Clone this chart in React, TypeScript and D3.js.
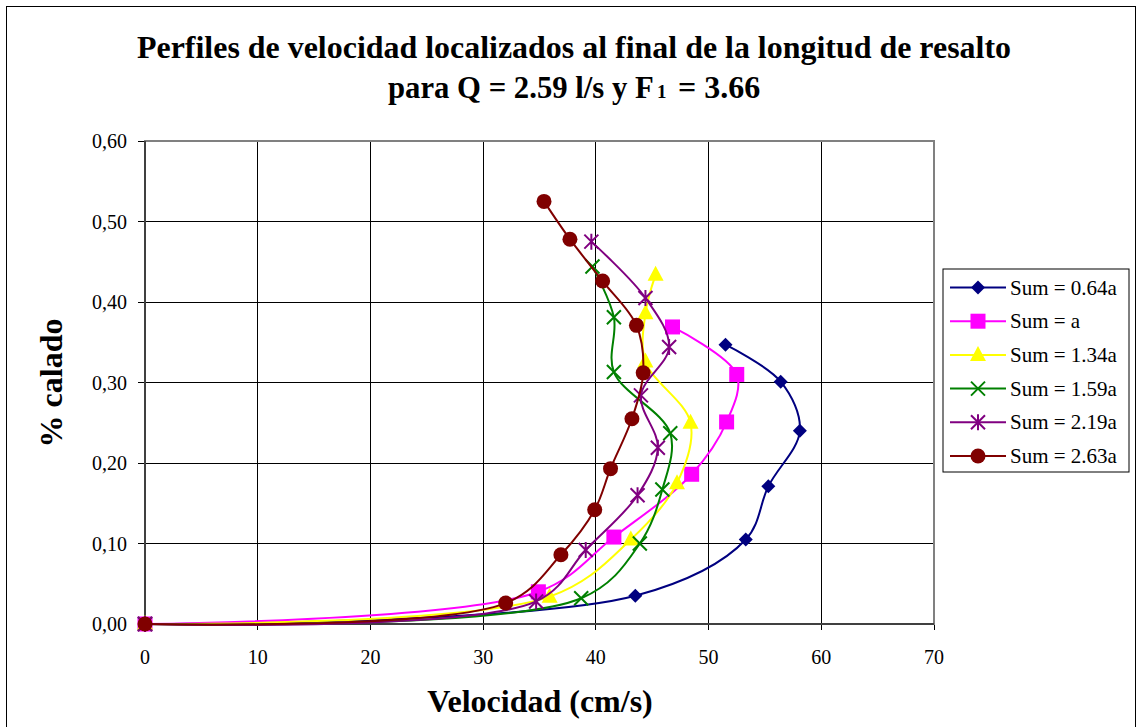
import * as d3 from 'd3';

const seriesNames = ['Sum = 0.64a', 'Sum = a', 'Sum = 1.34a', 'Sum = 1.59a', 'Sum = 2.19a', 'Sum = 2.63a'];
const seriesColors = ['#000080', '#FF00FF', '#FFFF00', '#008000', '#800080', '#800000'];
const seriesMarkers = ['diamond', 'square', 'triangle', 'x', 'star', 'circle'];

// velocidad (cm/s), % calado
const vel064 = [0, 43.5, 53.3, 55.3, 58.1, 56.4, 51.5];
const cal064 = [0, 0.035, 0.105, 0.171, 0.24, 0.301, 0.347];
const velA = [0, 34.9, 41.6, 48.5, 51.6, 52.5, 46.8];
const calA = [0, 0.04, 0.108, 0.186, 0.251, 0.31, 0.369];
const vel134 = [0, 35.9, 43.1, 47.2, 48.4, 44.4, 44.4, 45.3];
const cal134 = [0, 0.034, 0.105, 0.175, 0.25, 0.326, 0.386, 0.434];
const vel159 = [0, 38.7, 43.9, 45.9, 46.6, 41.6, 41.6, 39.7];
const cal159 = [0, 0.032, 0.1, 0.167, 0.237, 0.313, 0.381, 0.444];
const vel219 = [0, 34.7, 39.1, 43.7, 45.5, 44.0, 46.5, 44.4, 39.6];
const cal219 = [0, 0.028, 0.092, 0.16, 0.219, 0.284, 0.344, 0.405, 0.475];
const vel263 = [0, 32.0, 36.9, 39.9, 41.3, 43.2, 44.2, 43.6, 40.6, 37.7, 35.4];
const cal263 = [0, 0.026, 0.086, 0.142, 0.193, 0.255, 0.312, 0.371, 0.426, 0.478, 0.525];

const velocities = [vel064, velA, vel134, vel159, vel219, vel263];
const calados = [cal064, calA, cal134, cal159, cal219, cal263];

const xTicks = [0, 10, 20, 30, 40, 50, 60, 70];
const yTicks = [0, 0.1, 0.2, 0.3, 0.4, 0.5, 0.6];

const W = 1137;
const H = 727;
const left = 145, right = 934, top = 141, bottom = 624;
const serif = "'Liberation Serif', 'Times New Roman', serif";

function Marker({ kind, x, y, color }: { kind: string; x: number; y: number; color: string }) {
  const s = 7;
  if (kind === 'diamond') {
    return <path d={`M${x},${y - s}L${x + s},${y}L${x},${y + s}L${x - s},${y}Z`} fill={color} />;
  }
  if (kind === 'square') {
    return <rect x={x - 7.5} y={y - 7.5} width={15} height={15} fill={color} />;
  }
  if (kind === 'triangle') {
    return <path d={`M${x},${y - 9}L${x + 8},${y + 6}L${x - 8},${y + 6}Z`} fill={color} />;
  }
  if (kind === 'x') {
    return <path d={`M${x - s},${y - s}L${x + s},${y + s}M${x + s},${y - s}L${x - s},${y + s}`} stroke={color} strokeWidth={2} />;
  }
  if (kind === 'star') {
    return (
      <path
        d={`M${x - s},${y - s}L${x + s},${y + s}M${x + s},${y - s}L${x - s},${y + s}M${x},${y - s - 1}L${x},${y + s + 1}`}
        stroke={color}
        strokeWidth={2}
      />
    );
  }
  return <circle cx={x} cy={y} r={7.5} fill={color} />;
}

export default function App() {
  const x = d3.scaleLinear().domain([0, 70]).range([left, right]);
  const y = d3.scaleLinear().domain([0, 0.6]).range([bottom, top]);
  const line = d3
    .line<[number, number]>()
    .x((d) => x(d[0]))
    .y((d) => y(d[1]))
    .curve(d3.curveCatmullRom.alpha(0.5));
  const fmt = (v: number) => v.toFixed(2).replace('.', ',');

  const legX = 943, legY = 269, legRow = 33.7;

  return (
    <svg width={W} height={H} style={{ position: 'absolute', left: 0, top: 0, background: '#fff', fontFamily: serif }}>
      <rect x={6.5} y={6.5} width={W - 8} height={H} fill="#fff" stroke="#000" strokeWidth={1} />

      <text x={574} y={58} textAnchor="middle" fontSize={32} fontWeight="bold" textLength={874} lengthAdjust="spacingAndGlyphs">
        Perfiles de velocidad localizados al final de la longitud de resalto
      </text>
      {/* second title line split so the subscript 1 stays its own text */}
      <text transform="translate(388,98) scale(0.96,1)" fontSize={32} fontWeight="bold">
        para Q = 2.59 l/s y F
      </text>
      <text x={657} y={98} fontSize={19} fontWeight="bold">
        1
      </text>
      <text x={678} y={98} fontSize={32} fontWeight="bold">
        = 3.66
      </text>

      {xTicks.map((t) => (
        <line key={'gx' + t} x1={x(t)} x2={x(t)} y1={top} y2={bottom + 6} stroke="#000" strokeWidth={1} shapeRendering="crispEdges" />
      ))}
      {yTicks.map((t) => (
        <line key={'gy' + t} x1={left - 7} x2={right} y1={y(t)} y2={y(t)} stroke="#000" strokeWidth={1} shapeRendering="crispEdges" />
      ))}
      <rect x={left} y={top} width={right - left} height={bottom - top} fill="none" stroke="#808080" strokeWidth={2} />
      <line x1={left} x2={right} y1={bottom} y2={bottom} stroke="#404040" strokeWidth={2} />
      <line x1={left} x2={left} y1={top} y2={bottom} stroke="#404040" strokeWidth={2} />

      {xTicks.map((t) => (
        <text key={'tx' + t} x={x(t)} y={bottom + 40} textAnchor="middle" fontSize={20}>
          {t}
        </text>
      ))}
      {yTicks.map((t) => (
        <text key={'ty' + t} x={left - 18} y={y(t) + 7} textAnchor="end" fontSize={20}>
          {fmt(t)}
        </text>
      ))}

      <text x={540} y={712} textAnchor="middle" fontSize={32} fontWeight="bold">
        Velocidad (cm/s)
      </text>
      <text transform={`translate(62,383) rotate(-90)`} textAnchor="middle" fontSize={32} fontWeight="bold">
        % calado
      </text>

      {velocities.map((vs, si) => {
        const pts = vs.map((v, i) => [v, calados[si][i]] as [number, number]);
        return (
          <g key={'s' + si}>
            <path d={line(pts) || ''} fill="none" stroke={seriesColors[si]} strokeWidth={2} />
            {pts.map((p, i) => (
              <Marker key={i} kind={seriesMarkers[si]} x={x(p[0])} y={y(p[1])} color={seriesColors[si]} />
            ))}
          </g>
        );
      })}

      <rect x={legX} y={legY} width={186} height={203} fill="#fff" stroke="#000" strokeWidth={1} />
      {seriesNames.map((n, i) => {
        const cy = legY + 18.5 + i * legRow;
        return (
          <g key={'l' + i}>
            <line x1={legX + 7} x2={legX + 63} y1={cy} y2={cy} stroke={seriesColors[i]} strokeWidth={2} />
            <Marker kind={seriesMarkers[i]} x={legX + 35} y={cy} color={seriesColors[i]} />
            <text x={legX + 67} y={cy + 7} fontSize={21}>
              {n}
            </text>
          </g>
        );
      })}
    </svg>
  );
}
